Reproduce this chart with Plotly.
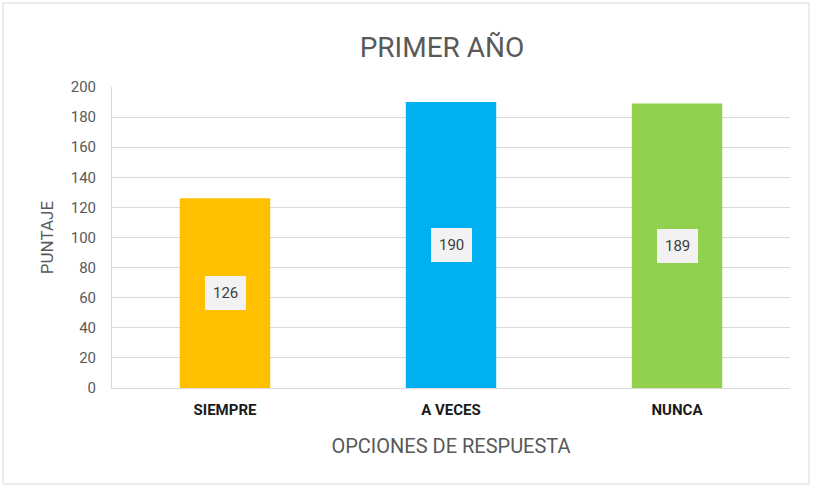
import plotly.graph_objects as go

categories = ["SIEMPRE", "A VECES", "NUNCA"]
values = [126, 190, 189]
colors = ["#FFC000", "#00B0F0", "#92D050"]
y_ticks = [0, 20, 40, 60, 80, 100, 120, 140, 160, 180, 200]

W, H = 813, 488
ml, mr, mt, mb = 112, 23, 87, 100
pw, ph = W - ml - mr, H - mt - mb
FONT = "Roboto, Arial, sans-serif"

fig = go.Figure()
fig.add_trace(go.Bar(
    x=categories, y=values, marker=dict(color=colors, line=dict(width=0)),
    width=0.4, hoverinfo="skip"
))

for c, v in zip(categories, values):
    fig.add_annotation(
        x=c, y=v / 2, text=str(v), showarrow=False,
        font=dict(family=FONT, size=15, color="#404040"),
        bgcolor="#F2F2F2", borderpad=7, bordercolor="#F2F2F2",
    )

# outer frame
fig.add_shape(type="rect", xref="paper", yref="paper",
              x0=(3 - ml) / pw, x1=(809 - ml) / pw,
              y0=(H - mb - 484) / ph, y1=(H - mb - 3) / ph,
              line=dict(color="#D9D9D9", width=1), layer="below")

fig.update_layout(
    width=W, height=H,
    margin=dict(l=ml, r=mr, t=mt, b=mb),
    paper_bgcolor="white", plot_bgcolor="white",
    showlegend=False,
    title=dict(text="PRIMER AÑO", x=442 / W, xanchor="center",
               y=1 - 47 / H, yanchor="middle",
               font=dict(family=FONT, size=28, color="#595959")),
    bargap=0.6,
)
fig.update_xaxes(
    showline=True, linecolor="#D9D9D9", linewidth=1,
    tickfont=dict(family=FONT, size=15, color="#1a1a1a", weight="bold"),
    ticks="outside", ticklen=8, tickcolor="rgba(0,0,0,0)",
    title=dict(text="OPCIONES DE RESPUESTA", standoff=20,
               font=dict(family=FONT, size=20, color="#595959")),
)
fig.update_yaxes(
    range=[0, 200], tickvals=y_ticks, showgrid=True, gridcolor="#D9D9D9",
    showline=True, linecolor="#D9D9D9", linewidth=1, zeroline=False,
    tickfont=dict(family=FONT, size=15, color="#595959"),
    ticks="outside", ticklen=12, tickcolor="rgba(0,0,0,0)",
    title=dict(text="PUNTAJE", standoff=12,
               font=dict(family=FONT, size=17, color="#595959")),
)

fig.write_html("out.html", config={"displayModeBar": False},
               post_script="document.body.style.margin='0';")
